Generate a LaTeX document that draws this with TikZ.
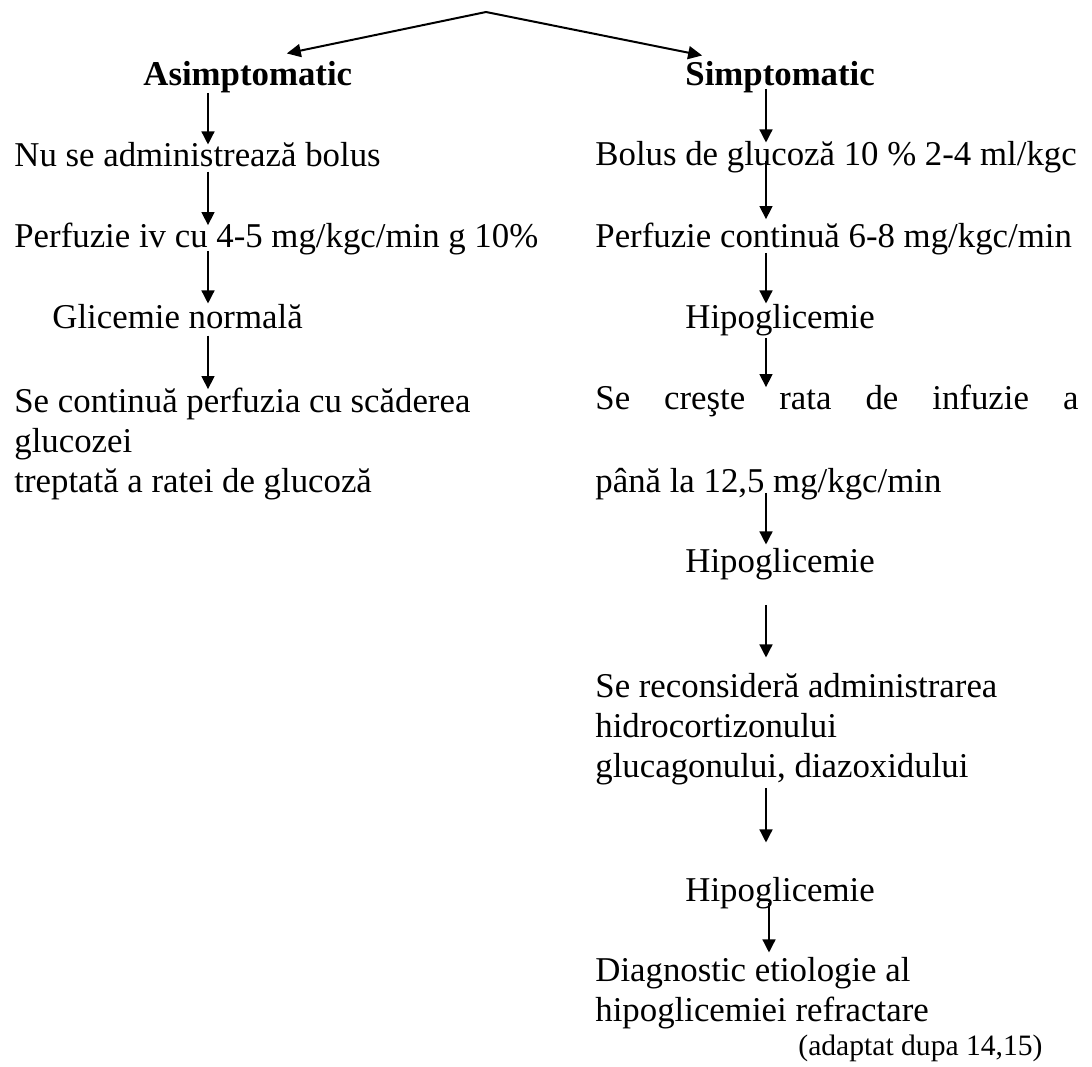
\documentclass[tikz,border=0pt]{standalone}
\usepackage{fontspec}
\setmainfont{Liberation Serif}
\usetikzlibrary{arrows.meta, positioning}

\begin{document}
\begin{tikzpicture}[
    x=0.5pt, y=-0.5pt,
    every node/.style={font=\fontsize{17.4}{20}\selectfont, inner sep=0pt, anchor=base west},
    head/.style={font=\fontsize{17.4}{20}\selectfont\bfseries},
    txt/.style={align=left},
    note/.style={font=\fontsize{14.8}{17}\selectfont},
    arrow/.style={-{Triangle[length=6.5pt, width=6.5pt]}, line width=0.7pt},
    toparrow/.style={-{Triangle[length=7pt, width=6.5pt]}, line width=1pt}
]
\useasboundingbox (0,0) rectangle (1092,1066);

% --- column axes ---
\coordinate (lcol) at (208,0);
\coordinate (rcol) at (766,0);
\coordinate (rcolb) at (769,0);
\coordinate (top) at (486,12);

% --- headings ---
\node[head] (asim) at (143,85) {Asimptomatic};
\node[head] (simp) at (685,85) {Simptomatic};

\draw[toparrow] (top) -- ([xshift=19.5pt,yshift=3.5pt]asim.north);
\draw[toparrow] (top) -- ([xshift=-39pt,yshift=2.5pt]simp.north);

% --- Asymptomatic branch (multi-line nodes sit on their last line) ---
\node (nubol) at (14,166) {Nu se administrează bolus};
\node (perfl) at (14,247) {Perfuzie iv cu 4-5 mg/kgc/min g 10\%};
\node (glic) at (52,328) {Glicemie normală};
\node[txt] (cont) at (14,492) {Se continuă perfuzia cu scăderea\\glucozei\\treptată a ratei de glucoză};

\draw[arrow, shorten >=-1.5pt] (asim.south -| lcol) -- (nubol.north -| lcol);
\draw[arrow, shorten <=2.5pt, shorten >=-1.5pt] (nubol.south -| lcol) -- (perfl.north -| lcol);
\draw[arrow, shorten <=-2pt] (perfl.south -| lcol) -- (glic.north -| lcol);
\draw[arrow, shorten <=3.5pt, shorten >=-1pt] (glic.south -| lcol) -- (cont.north -| lcol);

% --- Symptomatic branch ---
\node (bolus) at (595,165) {Bolus de glucoză 10 \% 2-4 ml/kgc};
\node (perfr) at (595,247) {Perfuzie continuă 6-8 mg/kgc/min};
\node (hipoa) at (685,328) {Hipoglicemie};
\node (creste) at (595,409) {\makebox[241.5pt][s]{Se creşte rata de infuzie a}};
\node (pana) at (595,492) {până la 12,5 mg/kgc/min};
\node (hipob) at (685,572) {Hipoglicemie};
\node[txt] (recons) at (595,777) {Se reconsideră administrarea\\hidrocortizonului\\glucagonului, diazoxidului};
\node (hipoc) at (685,901) {Hipoglicemie};
\node[txt] (diag) at (595,1021) {Diagnostic etiologie al\\hipoglicemiei refractare};
\node[note] (adapt) at (798,1055) {(adaptat dupa 14,15)};

\draw[arrow, shorten <=-2pt, shorten >=-1pt] (simp.south -| rcol) -- (bolus.north -| rcol);
\draw[arrow, shorten <=-6pt, shorten >=1.5pt] (bolus.south -| rcol) -- (perfr.north -| rcol);
\draw[arrow, shorten <=-1pt] (perfr.south -| rcol) -- (hipoa.north -| rcol);
\draw[arrow, shorten <=1pt, shorten >=-1.5pt] (hipoa.south -| rcol) -- (creste.north -| rcol);
\draw[arrow, shorten <=-3.5pt, shorten >=1.5pt] (pana.south -| rcol) -- (hipob.north -| rcol);
\draw[arrow, shorten <=12.5pt, shorten >=7.5pt] (hipob.south -| rcol) -- (recons.north -| rcol);
\draw[arrow, shorten <=1.5pt, shorten >=17pt] (recons.south -| rcol) -- (hipoc.north -| rcol);
\draw[arrow, shorten <=-3pt, shorten >=2pt] (hipoc.south -| rcolb) -- (diag.north -| rcolb);

\end{tikzpicture}
\end{document}
